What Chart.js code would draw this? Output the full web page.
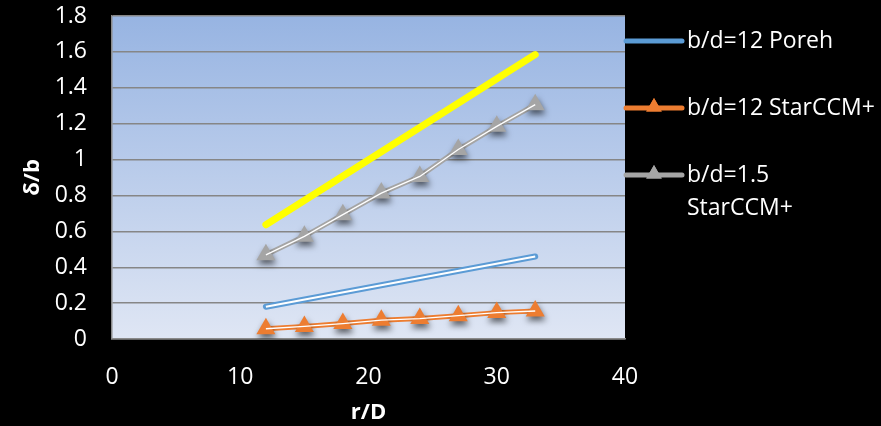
<!DOCTYPE html>
<html><head><meta charset="utf-8">
<script src="https://cdn.jsdelivr.net/npm/chart.js@4/dist/chart.umd.min.js"></script>
<style>html,body{margin:0;padding:0;background:#000;}canvas{display:block;}</style>
</head><body>
<canvas id="c" width="881" height="426"></canvas>
<script>
// ---- data ----
const rD = [12, 15, 18, 21, 24, 27, 30, 33];
const starCCM_bd12 = [0.057, 0.070, 0.086, 0.105, 0.114, 0.130, 0.147, 0.156];
const starCCM_bd15 = [0.469, 0.572, 0.693, 0.813, 0.906, 1.056, 1.185, 1.306];
const porehX = [12, 33];
const poreh_bd12 = [0.18, 0.46];
const yellowX = [12, 33];
const yellowY = [0.637, 1.585];
const xTicks = [0, 10, 20, 30, 40];
const yTicks = [0, 0.2, 0.4, 0.6, 0.8, 1, 1.2, 1.4, 1.6, 1.8];
const legendLabels = ['b/d=12 Poreh', 'b/d=12 StarCCM+', 'b/d=1.5 StarCCM+'];
const xTitle = 'r/D';
const yTitle = 'δ/b';

const BLUE = '#5b9bd5', ORANGE = '#ed7d31', GRAY = '#a5a5a5', YELLOW = '#ffff00';
const pts = (xs, ys) => xs.map((x, i) => ({x, y: ys[i]}));
const FONT = '"Open Sans", sans-serif';

const bgPlugin = {
  id: 'bg',
  beforeDraw(chart) {
    const {ctx, chartArea: a} = chart;
    ctx.save();
    ctx.fillStyle = '#000';
    ctx.fillRect(0, 0, chart.width, chart.height);
    const g = ctx.createLinearGradient(0, a.top, 0, a.bottom);
    g.addColorStop(0, '#97b4e2');
    g.addColorStop(1, '#dfe6f4');
    ctx.fillStyle = g;
    ctx.fillRect(a.left, a.top, a.right - a.left, a.bottom - a.top);
    ctx.restore();
  }
};
const shadowPlugin = {
  id: 'shadow',
  beforeDatasetDraw(chart, args) {
    const ds = chart.data.datasets[args.index];
    if (!ds.shadow) return;
    const ctx = chart.ctx;
    ctx.save();
    ctx.shadowColor = 'rgba(0,0,0,0.6)';
    ctx.shadowBlur = 6;
    ctx.shadowOffsetX = 1;
    ctx.shadowOffsetY = 4;
  },
  afterDatasetDraw(chart, args) {
    const ds = chart.data.datasets[args.index];
    if (ds.shadow) chart.ctx.restore();
  }
};
const legendPlugin = {
  id: 'customLegend',
  afterDraw(chart) {
    const ctx = chart.ctx;
    const items = [
      {color: BLUE, marker: false},
      {color: ORANGE, marker: true},
      {color: GRAY, marker: true}
    ];
    const x0 = 626, x1 = 682, tx = 687, maxW = 190;
    const ys = [41, 108, 175];
    ctx.save();
    ctx.font = '23px ' + FONT;
    ctx.textBaseline = 'middle';
    ctx.textAlign = 'left';
    items.forEach((it, i) => {
      const y = ys[i];
      ctx.strokeStyle = it.color;
      ctx.lineWidth = 5;
      ctx.lineCap = 'round';
      ctx.beginPath(); ctx.moveTo(x0, y); ctx.lineTo(x1, y); ctx.stroke();
      if (it.marker) {
        ctx.fillStyle = it.color;
        Chart.helpers.drawPoint(ctx, {pointStyle: 'triangle', radius: 9, rotation: 0, borderWidth: 0}, (x0 + x1) / 2, y - 1);
        ctx.fill();
      }
      const words = legendLabels[i].split(' ');
      const lines = [];
      let cur = '';
      words.forEach(w => {
        const t = cur ? cur + ' ' + w : w;
        if (ctx.measureText(t).width > maxW && cur) { lines.push(cur); cur = w; } else cur = t;
      });
      lines.push(cur);
      ctx.fillStyle = '#fff';
      lines.forEach((l, k) => ctx.fillText(l, tx, y + k * 33));
    });
    ctx.restore();
  }
};

const datasets = [
  {label: 'yellow', data: pts(yellowX, yellowY), borderColor: YELLOW, borderWidth: 7,
   borderCapStyle: 'round', pointRadius: 0, order: 6},
  {label: legendLabels[0], data: pts(porehX, poreh_bd12), borderColor: BLUE, borderWidth: 6,
   borderCapStyle: 'round', pointRadius: 0, order: 5},
  {label: 'w1', data: pts(porehX, poreh_bd12), borderColor: '#ffffff', borderWidth: 2,
   borderCapStyle: 'butt', pointRadius: 0, order: 1},
  {label: legendLabels[1], data: pts(rD, starCCM_bd12), borderColor: ORANGE, borderWidth: 5,
   pointRadius: 0, order: 5},
  {label: 'm2', data: pts(rD, starCCM_bd12), showLine: false, pointStyle: 'triangle',
   pointRadius: 11, pointBackgroundColor: ORANGE, pointBorderWidth: 0, shadow: true, order: 3},
  {label: 'w2', data: pts(rD, starCCM_bd12), borderColor: '#ffffff', borderWidth: 1.3,
   pointRadius: 0, order: 1},
  {label: legendLabels[2], data: pts(rD, starCCM_bd15), borderColor: GRAY, borderWidth: 5,
   pointRadius: 0, order: 5},
  {label: 'm3', data: pts(rD, starCCM_bd15), showLine: false, pointStyle: 'triangle',
   pointRadius: 11, pointBackgroundColor: GRAY, pointBorderWidth: 0, shadow: true, order: 3},
  {label: 'w3', data: pts(rD, starCCM_bd15), borderColor: '#ffffff', borderWidth: 1.3,
   pointRadius: 0, order: 1}
];

new Chart(document.getElementById('c'), {
  type: 'line',
  data: {datasets},
  plugins: [bgPlugin, shadowPlugin, legendPlugin],
  options: {
    responsive: false,
    devicePixelRatio: 1,
    animation: false,
    layout: {padding: {left: 0, right: 256, top: 16, bottom: 0}},
    plugins: {legend: {display: false}, tooltip: {enabled: false}},
    scales: {
      x: {
        type: 'linear', min: xTicks[0], max: xTicks[xTicks.length - 1],
        afterBuildTicks: s => { s.ticks = xTicks.map(v => ({value: v})); },
        afterFit: s => { s.height = 87; s.paddingLeft = 0; s.paddingRight = 0; },
        grid: {display: false, drawTicks: false},
        border: {display: true, color: '#8a8a8a', width: 1.5},
        ticks: {color: '#fff', font: {family: FONT, size: 23}, padding: 25, maxRotation: 0,
                callback: v => String(v)},
        title: {display: true, text: xTitle, color: '#fff', padding: {top: 0, bottom: 0},
                font: {family: FONT, size: 22, weight: 'bold'}}
      },
      y: {
        type: 'linear', min: yTicks[0], max: yTicks[yTicks.length - 1],
        afterBuildTicks: s => { s.ticks = yTicks.map(v => ({value: v})); },
        afterFit: s => { s.width = 112; s.paddingTop = 0; s.paddingBottom = 0; },
        grid: {color: '#868686', lineWidth: 1.4, drawTicks: false},
        border: {display: true, color: '#8a8a8a', width: 1.5},
        ticks: {color: '#fff', font: {family: FONT, size: 23}, padding: 25,
                callback: v => String(+v.toFixed(1))},
        title: {display: true, text: yTitle, color: '#fff', padding: {top: 20, bottom: 0},
                font: {family: FONT, size: 22, weight: 'bold'}}
      }
    }
  }
});
</script>
</body></html>
